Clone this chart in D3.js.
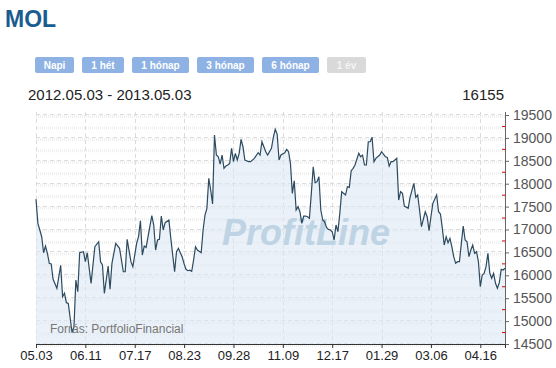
<!DOCTYPE html>
<meta charset="utf-8">
<style>
	body {
		margin: 0;
		background: #fff;
		font-family: "Liberation Sans", Arial, sans-serif;
	}
	.hgrid { stroke: #dcdcdc; stroke-dasharray: 4,3; }
	.mgrid { stroke: #efefef; stroke-width: 3; stroke-dasharray: 1,1; }
	.vgrid { stroke: #dcdcdc; stroke-dasharray: 4,3; }
	.btn text { fill: #fff; font-size: 10px; font-weight: bold; }
</style>
<body>
<svg id="chart" width="556" height="368"></svg>
<script src="https://cdn.jsdelivr.net/npm/d3@7"></script>
<script>
	// trading day offset from 2012.05.03 and closing price
	var days = [0,1,2,3,4,5,6,7,8,9,11,13,14,15,16,17,19,20,21,22,23,25,26,27,29,31,33,34,35,36,
		38,39,40,42,44,46,47,48,50,51,53,54,55,56,57,58,59,61,62,63,64,65,66,67,68,70,71,73,74,75,76,77,
		78,79,80,81,82,83,84,85,87,88,89,90,91,92,93,94,95,96,97,98,99,100,101,102,103,104,105,106,107,108,109,110,112,113,
		115,117,118,119,121,122,124,125,126,127,128,129,131,132,133,134,135,136,137,138,139,140,141,142,143,144,145,146,147,148,149,150,151,152,153,154,155,
		156,157,158,159,160,161,163,164,165,166,167,168,170,171,172,173,174,175,176,177,178,179,181,182,184,185,186,187,188,190,191,192,193,194,
		196,197,199,200,201,202,203,205,206,207,208,209,211,212,213,214,215,216,217,218,219,220,221,222,223,224,225,226,227,228,229,230,231,232,233,234,235,236,237,238,239,240,241,242,243,244,245,246,247];
	var prices = [17659,17135,16989,16842,16493,16639,16480,16262,16246,15912,15716,16218,15533,15607,15402,15388,14750,14878,15897,15642,16493,16515,16297,16493,15825,16624,16733,16297,16225,15607,
		16203,15694,16262,16698,16589,16078,16078,16785,16297,16188,16698,16843,17192,16443,16639,16610,16843,17301,17098,16552,16770,16785,17294,16989,17148,17207,16807,16078,16515,16589,16493,16400,
		16250,16131,16100,16110,16087,16334,16624,16552,16493,16989,17316,17462,18117,17862,17556,19062,18626,18589,18429,18626,18335,18386,18408,18444,18772,18480,18663,18517,18663,18968,18807,18517,18480,18480,
		18553,18676,18626,18916,18698,18626,18771,19012,19187,19084,18517,18626,18676,18750,18698,18444,17789,18065,17425,17497,17388,17135,17294,17294,17280,17244,17789,18371,18022,18044,18153,17425,17207,17170,17047,17003,16989,
		16952,16770,17098,16952,17353,17825,17753,17934,17920,18283,18335,18408,18663,18589,18626,18408,18408,18916,18916,19012,18480,18553,18626,18698,18589,18575,18386,18480,18480,18553,17643,17825,17789,17510,
		17462,17702,18007,17702,17753,17425,17061,17388,17279,16974,17279,17571,17753,17388,17338,17026,16661,16843,16712,16807,16624,16406,16262,16297,16297,16698,17076,16770,16733,16406,16552,16661,16480,16515,16297,15751,16006,16043,16188,16480,16043,15934,16043,15825,15716,15838,16131,16115,16155];
	var tickDays = [0,26,52,78,104,130,156,182,208,234];
	var tickLabels = ["05.03","06.11","07.17","08.23","09.28","11.09","12.17","01.29","03.06","04.16"];
	var buttons = ["Napi","1 hét","1 hónap","3 hónap","6 hónap","1 év"];

	var svg = d3.select("#chart");
	var plotL = 36, plotR = 505, plotT = 115, plotB = 344;

	var x = d3.scaleLinear().domain([0, 247]).range([plotL, plotR]);
	var y = d3.scaleLinear().domain([14500, 19500]).range([plotB, plotT]);

	// header
	svg.append("text").attr("x", 5).attr("y", 27)
		.style("font-size", "23px").style("font-weight", "bold").style("fill", "#1b5c90")
		.text("MOL");

	var bx = [35, 82, 132, 197, 262, 327], bw = [39, 42, 57, 57, 57, 39];
	var btn = svg.selectAll(".btn").data(buttons).enter().append("g").attr("class", "btn")
		.attr("transform", function(d, i) { return "translate(" + bx[i] + ",57)"; });
	btn.append("rect").attr("width", function(d, i) { return bw[i]; }).attr("height", 16)
		.attr("rx", 2).style("fill", function(d, i) { return i == 5 ? "#d9d9d9" : "#8db2e3"; });
	btn.append("text").attr("x", function(d, i) { return bw[i] / 2; }).attr("y", 12)
		.attr("text-anchor", "middle").style("fill", function(d, i) { return i == 5 ? "#f4f4f4" : "#fff"; })
		.text(function(d) { return d; });

	svg.append("text").attr("x", 28).attr("y", 100).style("font-size", "15px").style("fill", "#222")
		.text("2012.05.03 - 2013.05.03");
	svg.append("text").attr("x", 504).attr("y", 100).attr("text-anchor", "end")
		.style("font-size", "15px").style("fill", "#222").text(prices[prices.length - 1]);

	// grid
	var minor = d3.range(14750, 19500, 500);
	var major = d3.range(14500, 19501, 500);
	svg.selectAll(".mgrid").data(minor.concat(major)).enter().append("line").attr("class", "mgrid")
		.attr("x1", plotL).attr("x2", plotR).attr("y1", function(d) { return y(d) + 1.5; }).attr("y2", function(d) { return y(d) + 1.5; });
	svg.selectAll(".hgrid").data(major).enter().append("line").attr("class", "hgrid")
		.attr("x1", plotL).attr("x2", plotR).attr("y1", function(d) { return Math.round(y(d)) - 0.5; }).attr("y2", function(d) { return Math.round(y(d)) - 0.5; });
	svg.selectAll(".vgrid").data(tickDays).enter().append("line").attr("class", "vgrid")
		.attr("x1", function(d) { return Math.round(x(d)) + 0.5; }).attr("x2", function(d) { return Math.round(x(d)) + 0.5; })
		.attr("y1", plotT - 3).attr("y2", plotB);

	var pts = days.map(function(d, i) { return [d, prices[i]]; });

	var area = d3.area().x(function(d) { return x(d[0]); }).y0(plotB).y1(function(d) { return y(d[1]); });
	svg.append("path").datum(pts).attr("d", area).style("fill", "#dce8f3").style("opacity", 0.6);

	// watermark
	svg.append("text").attr("x", 306).attr("y", 245).attr("text-anchor", "middle")
		.style("font-size", "36px").style("font-weight", "bold").style("font-style", "italic")
		.style("fill", "#bed3e3").text("ProfitLine");

	var line = d3.line().x(function(d) { return x(d[0]); }).y(function(d) { return y(d[1]); });
	svg.append("path").datum(pts).attr("d", line)
		.style("fill", "none").style("stroke", "#2c4a60").style("stroke-width", 1.2);

	svg.append("text").attr("x", 50).attr("y", 333).style("font-size", "12px").style("fill", "#777")
		.text("Forrás: PortfolioFinancial");

	// right axis
	var yAxis = svg.append("g").attr("transform", "translate(" + plotR + ",0)")
		.call(d3.axisRight(y).tickValues(major).tickSize(4).tickPadding(4).tickFormat(d3.format("d")));
	yAxis.select(".domain").attr("d", "M0.5," + (plotT - 3) + "V" + plotB).style("stroke", "#666");
	yAxis.selectAll(".tick line").style("stroke", "#666");
	yAxis.selectAll(".tick text").style("font-size", "14px").style("fill", "#555")
		.style("font-family", "'Liberation Sans', Arial, sans-serif");
	yAxis.selectAll(".redtick").data(minor).enter().append("line").attr("class", "redtick")
		.attr("x1", -3).attr("x2", 0).attr("y1", function(d) { return y(d); }).attr("y2", function(d) { return y(d); })
		.style("stroke", "#e00000");

	// bottom axis
	var xAxis = svg.append("g").attr("transform", "translate(0," + plotB + ")")
		.call(d3.axisBottom(x).tickValues(tickDays).tickSize(4).tickPadding(3)
			.tickFormat(function(d, i) { return tickLabels[i]; }));
	xAxis.select(".domain").style("stroke", "#333");
	xAxis.selectAll(".tick line").style("stroke", "#333");
	xAxis.selectAll(".tick text").style("font-size", "13px").style("fill", "#222")
		.style("font-family", "'Liberation Sans', Arial, sans-serif");
</script>
</body>
